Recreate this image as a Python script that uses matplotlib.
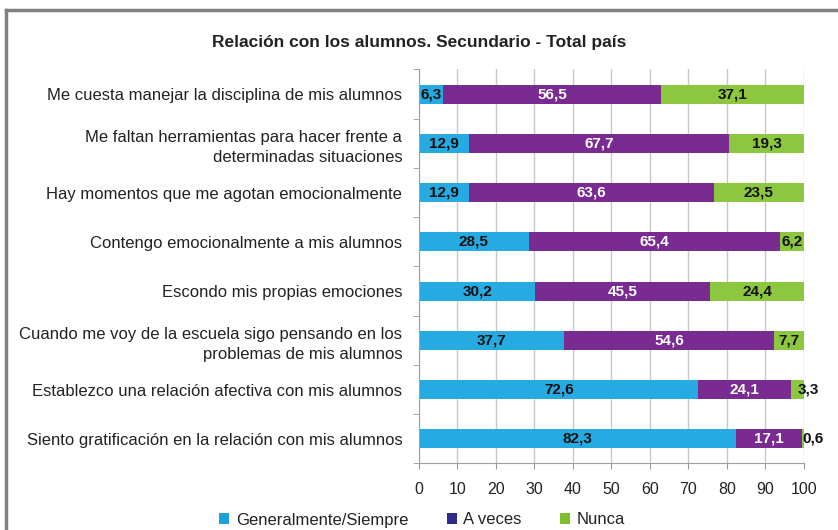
import matplotlib.pyplot as plt
from matplotlib.lines import Line2D
from matplotlib.patches import Patch

# Data (top to bottom as in the chart)
categories = [
    "Me cuesta manejar la disciplina de mis alumnos",
    "Me faltan herramientas para hacer frente a\ndeterminadas situaciones",
    "Hay momentos que me agotan emocionalmente",
    "Contengo emocionalmente a mis alumnos",
    "Escondo mis propias emociones",
    "Cuando me voy de la escuela sigo pensando en los\nproblemas de mis alumnos",
    "Establezco una relación afectiva con mis alumnos",
    "Siento gratificación en la relación con mis alumnos",
]
siempre = [6.3, 12.9, 12.9, 28.5, 30.2, 37.7, 72.6, 82.3]
a_veces = [56.5, 67.7, 63.6, 65.4, 45.5, 54.6, 24.1, 17.1]
nunca = [37.1, 19.3, 23.5, 6.2, 24.4, 7.7, 3.3, 0.6]

series_names = ["Generalmente/Siempre", "A veces", "Nunca"]
bar_colors = ["#25ABE2", "#7A2B91", "#8DC63F"]
legend_colors = ["#1E9FD9", "#2F2A8E", "#7FBD2C"]
text_colors = ["#111111", "white", "#111111"]

plt.rcParams["font.family"] = ["Liberation Sans", "DejaVu Sans"]

fig = plt.figure(figsize=(8.38, 5.30), dpi=100)
ax = fig.add_axes([0.5, 0.1255, 0.4594, 0.7434])

n = len(categories)
ypos = list(range(n))

left = [0.0] * n
for vals, col, tcol in zip([siempre, a_veces, nunca], bar_colors, text_colors):
    ax.barh(ypos, vals, left=left, height=0.39, color=col, zorder=2)
    for i, v in enumerate(vals):
        cx = left[i] + v / 2
        label = f"{v:.1f}".replace(".", ",")
        if v < 5:
            ax.text(cx, i, label, ha="left", va="center", fontsize=11,
                    fontweight="bold", color="#111111", zorder=3)
        else:
            ax.text(cx, i, label, ha="center", va="center", fontsize=11,
                    fontweight="bold", color=tcol, zorder=3)
    left = [a + b for a, b in zip(left, vals)]

ax.set_xlim(0, 100)
ax.set_ylim(n - 0.5, -0.5)
ax.set_xticks(range(0, 101, 10))
ax.set_yticks(ypos)
ax.set_yticklabels(categories, fontsize=12, color="#222222", linespacing=1.45)
ax.set_yticks([i + 0.5 for i in range(-1, n)], minor=True)
ax.tick_params(axis="y", which="major", length=0, pad=12)
ax.tick_params(axis="y", which="minor", length=4, color="#999999",
               direction="out")
ax.tick_params(axis="x", length=4, color="#999999", labelsize=11.5,
               labelcolor="#222222", pad=9)

ax.grid(axis="x", color="#c8c8c8", linewidth=1, zorder=0)
ax.set_axisbelow(True)
for side in ["top", "right"]:
    ax.spines[side].set_visible(False)
for side in ["left", "bottom"]:
    ax.spines[side].set_color("#a0a0a0")

fig.text(0.5, 1 - 42 / 530, "Relación con los alumnos. Secundario - Total país",
         ha="center", va="center", fontsize=12.5, fontweight="bold",
         color="#222222")

handles = [Patch(facecolor=c, edgecolor="none") for c in legend_colors]
fig.legend(handles, series_names, loc="center", ncol=3, frameon=False,
           bbox_to_anchor=(0.504, 1 - 520 / 530), fontsize=12,
           handlelength=0.6, handleheight=0.6, handletextpad=0.4,
           columnspacing=2.3, labelcolor="#222222")

# Outer frame (top and left edges)
fig.add_artist(Line2D([6 / 838, 1], [1 - 10 / 530, 1 - 10 / 530],
                      color="#808080", linewidth=2.5))
fig.add_artist(Line2D([6 / 838, 6 / 838], [0, 1 - 10 / 530],
                      color="#808080", linewidth=2.5))

fig.savefig("out.png", dpi=100)
